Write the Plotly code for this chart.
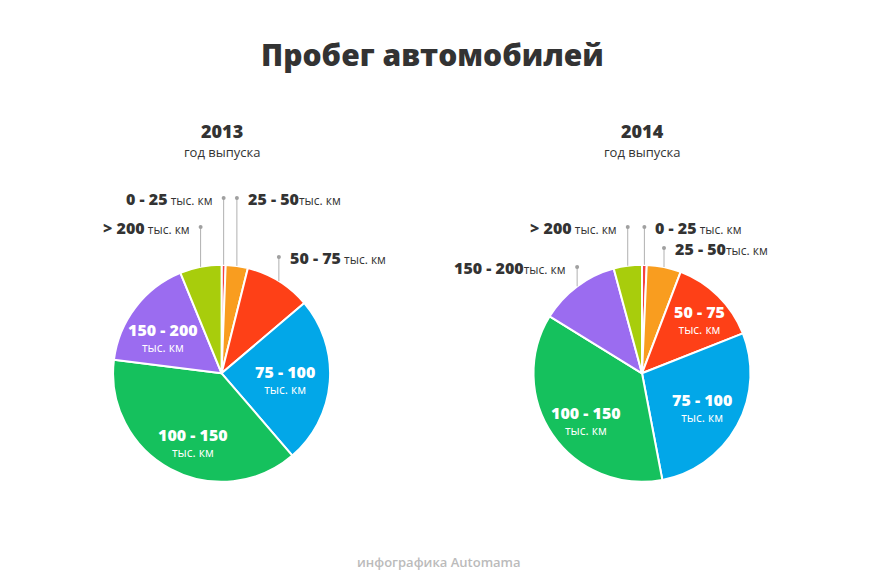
import math
import plotly.graph_objects as go

# ---------------- data ----------------
categories = ["0 - 25", "25 - 50", "50 - 75", "75 - 100", "100 - 150", "150 - 200", "> 200"]
unit = "тыс. км"
years = ["2013", "2014"]
subtitle = "год выпуска"
values_2013 = [0.6, 3.3, 9.9, 24.9, 38.3, 16.8, 6.2]
values_2014 = [0.7, 5.1, 13.2, 28.0, 36.8, 12.0, 4.2]
colors = ["#f5423f", "#f99d1f", "#fe4017", "#02a7e8", "#15c15d", "#9b6cf0", "#a8cd0c"]
title = "Пробег автомобилей"
footer = "инфографика Automama"

# ---------------- layout config (pixels) ----------------
W, H = 870, 584
R = 108.5
CY = 373.3
FONT = "Open Sans"
DARK = "#333333"

# inside: (slice index, dx, dy) nudges of the label from 0.65R at mid-angle
pies = [
    dict(year=years[0], values=values_2013, cx=221.6,
         inside=[(3, -7, 1), (4, 5, 7), (5, -3, 7)],
         outside=[(0, 198, "left", " "), (1, 198, "right", ""),
                  (6, 227, "left", " "), (2, 257, "right", " ")]),
    dict(year=years[1], values=values_2014, cx=642.0,
         inside=[(2, 8, -4), (3, -2, 0), (4, 2, 7)],
         outside=[(6, 227, "left", " "), (0, 227, "right", " "),
                  (1, 248, "right", ""), (5, 267, "left", "")]),
]


def px(x):
    return x / W


def py(y):
    return 1 - y / H


fig = go.Figure()
annotations = []
shapes = []

for p in pies:
    cx = p["cx"]
    vals = p["values"]
    fig.add_trace(go.Pie(
        labels=categories, values=vals, sort=False, direction="clockwise",
        rotation=0, textinfo="none", showlegend=False,
        marker=dict(colors=colors, line=dict(color="white", width=2)),
        domain=dict(x=[px(cx - R), px(cx + R)], y=[py(CY + R), py(CY - R)]),
        hovertemplate="%{label} " + unit + ": %{value}%<extra>" + p["year"] + "</extra>",
    ))
    total = sum(vals)
    cum = 0
    mids = []
    for v in vals:
        mids.append((cum + v / 2) / total * 2 * math.pi)
        cum += v

    # inside labels
    for i, dx, dy in p["inside"]:
        a = mids[i]
        lx = cx + 0.65 * R * math.sin(a) + dx
        ly = CY - 0.65 * R * math.cos(a) + dy
        annotations.append(dict(
            x=px(lx), y=py(ly), xref="paper", yref="paper",
            text="<span style='font-size:16px;font-weight:800'>" + categories[i] + "</span><br>" + unit,
            showarrow=False, font=dict(family=FONT, size=12, color="white"),
            xanchor="center", yanchor="middle"))

    # outside labels with leader lines
    for i, ydot, side, sep in p["outside"]:
        a = mids[i]
        lx = cx + R * math.sin(a)
        ly = CY - R * math.cos(a)
        shapes.append(dict(type="line", xref="paper", yref="paper",
                           x0=px(lx), x1=px(lx), y0=py(ydot), y1=py(ly),
                           line=dict(color="#b0b0b0", width=1)))
        shapes.append(dict(type="circle", xref="paper", yref="paper",
                           x0=px(lx - 2), x1=px(lx + 2), y0=py(ydot - 2), y1=py(ydot + 2),
                           fillcolor="#a0a0a0", line=dict(width=0)))
        gap = 9
        tx = lx - gap if side == "left" else lx + gap
        annotations.append(dict(
            x=px(tx), y=py(ydot + 1), xref="paper", yref="paper",
            text="<span style='font-size:16px;font-weight:800'>" + categories[i] + "</span>" + sep + unit,
            showarrow=False, font=dict(family=FONT, size=12, color=DARK),
            xanchor="right" if side == "left" else "left", yanchor="middle"))

    # year titles
    annotations.append(dict(x=px(cx), y=py(131), xref="paper", yref="paper",
                            text=p["year"], showarrow=False,
                            font=dict(family=FONT, size=18, color=DARK, weight=800),
                            xanchor="center", yanchor="middle"))
    annotations.append(dict(x=px(cx), y=py(152), xref="paper", yref="paper",
                            text=subtitle, showarrow=False,
                            font=dict(family=FONT, size=13, color=DARK),
                            xanchor="center", yanchor="middle"))

annotations.append(dict(x=px(432), y=py(55), xref="paper", yref="paper",
                        text=title, showarrow=False,
                        font=dict(family=FONT, size=30, color=DARK, weight=800),
                        xanchor="center", yanchor="middle"))
annotations.append(dict(x=px(439), y=py(562), xref="paper", yref="paper",
                        text=footer, showarrow=False,
                        font=dict(family=FONT, size=13, color="#bbbbbb", weight=600),
                        xanchor="center", yanchor="middle"))

fig.update_layout(
    width=W, height=H, autosize=False,
    margin=dict(l=0, r=0, t=0, b=0),
    paper_bgcolor="white", plot_bgcolor="white",
    annotations=annotations, shapes=shapes,
    font=dict(family=FONT, color=DARK),
)

fig.write_html("out.html", config={"displayModeBar": False},
               post_script="document.body.style.margin='0';")
